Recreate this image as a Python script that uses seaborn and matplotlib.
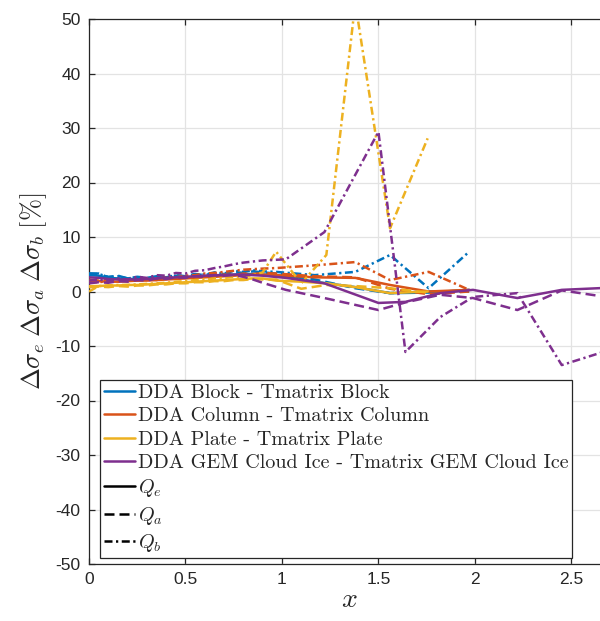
import matplotlib
matplotlib.use("Agg")
import matplotlib.pyplot as plt
from matplotlib.lines import Line2D
import numpy as np
import pandas as pd
import seaborn as sns

# ---- data: relative differences DDA vs T-matrix, in percent ----
x_dense = [0.00, 0.05, 0.10, 0.15, 0.20, 0.25, 0.30, 0.35, 0.40, 0.45,
           0.50, 0.55, 0.60, 0.65, 0.70, 0.75, 0.80, 0.85, 0.90]

# Block
x_block_tail = [0.97, 1.17, 1.38, 1.56, 1.76, 1.97]
block_qe = [3.0, 2.9, 2.5, 2.4, 2.3, 2.3, 2.2, 2.3, 2.4, 2.5, 2.6, 2.7, 2.8, 2.9, 3.0, 3.1, 3.2, 3.2, 3.1,
            3.0, 1.8, 0.8, -0.3, -0.2, 0.3]
block_qa = [3.3, 3.3, 2.6, 2.9, 2.4, 2.7, 2.5, 2.8, 2.6, 3.0, 2.8, 3.2, 3.0, 3.4, 3.2, 3.6, 3.4, 3.7, 3.5,
            3.3, 2.2, 0.6, -0.3, 0.0, 0.0]
block_qb = [3.3, 3.2, 2.7, 2.8, 2.4, 2.6, 2.3, 2.7, 2.5, 2.9, 2.8, 3.2, 3.1, 3.5, 3.3, 3.8, 3.6, 3.9, 3.7,
            3.6, 3.0, 3.6, 6.7, 0.6, 7.3]

# Column
x_column_tail = [0.97, 1.17, 1.38, 1.56, 1.76, 1.97]
column_qe = [2.0, 1.9, 1.8, 1.8, 1.9, 2.0, 2.0, 2.1, 2.2, 2.3, 2.4, 2.5, 2.6, 2.7, 2.8, 2.9, 3.0, 3.1, 3.1,
             3.0, 2.6, 2.5, 1.2, 0.0, 0.3]
column_qa = [2.2, 2.0, 2.1, 1.9, 2.2, 2.0, 2.3, 2.1, 2.5, 2.3, 2.7, 2.5, 2.9, 2.8, 3.1, 3.0, 3.3, 3.2, 3.4,
             3.3, 2.8, 2.6, 0.5, -0.5, 0.0]
column_qb = [1.8, 1.7, 1.9, 1.8, 2.1, 2.0, 2.3, 2.3, 2.6, 2.6, 2.9, 3.0, 3.3, 3.4, 3.6, 3.8, 4.0, 4.1, 4.2,
             4.3, 4.8, 5.4, 2.1, 3.6, 0.3]

# Plate
x_plate_tail = [0.97, 1.10, 1.23, 1.38, 1.56, 1.755]
plate_qe = [1.0, 1.0, 1.1, 1.1, 1.2, 1.2, 1.3, 1.4, 1.5, 1.6, 1.7, 1.8, 1.9, 2.0, 2.1, 2.2, 2.3, 2.4, 2.4,
            2.0, 1.8, 1.5, 0.8, -0.3, 0.0]
plate_qa = [0.8, 0.9, 0.8, 1.0, 0.9, 1.1, 1.1, 1.3, 1.3, 1.5, 1.5, 1.7, 1.7, 1.9, 1.9, 2.1, 2.1, 2.3, 2.2,
            2.2, 0.5, 1.2, 1.0, 0.6, -0.2]
plate_qb = [0.0, 1.0, 1.1, 1.2, 1.2, 1.3, 1.4, 1.5, 1.6, 1.8, 1.9, 2.1, 2.2, 2.4, 2.5, 2.7, 2.8, 3.0, 3.5,
            7.3, 1.5, 6.7, 53.0, 11.6, 28.1]

# GEM cloud ice
x_gem_tail = [1.02, 1.22, 1.50, 1.64, 1.82, 1.99, 2.22, 2.45, 2.70]
gem_qe = [2.6, 2.5, 2.3, 2.2, 2.2, 2.2, 2.3, 2.4, 2.5, 2.6, 2.7, 2.8, 2.9, 3.0, 3.0, 3.1, 3.1, 3.0, 2.9,
          2.5, 1.5, -2.1, -1.9, -0.3, 0.3, -1.2, 0.3, 0.7]
gem_qa = [1.5, 1.7, 1.6, 1.9, 1.8, 2.1, 2.0, 2.4, 2.3, 2.6, 2.5, 2.8, 2.7, 3.0, 2.9, 3.0, 2.7, 2.2, 1.6,
          0.3, -1.2, -3.4, -2.0, -0.6, -1.2, -3.4, 0.2, -1.1]
gem_qb = [2.0, 2.2, 2.0, 2.4, 2.2, 2.7, 2.5, 3.0, 2.9, 3.4, 3.3, 3.8, 3.9, 4.3, 4.6, 5.0, 5.3, 5.5, 5.7,
          5.9, 10.9, 29.3, -11.1, -4.7, -1.0, -0.3, -13.5, -10.7]

shape_labels = ["DDA Block - Tmatrix Block",
                "DDA Column - Tmatrix Column",
                "DDA Plate - Tmatrix Plate",
                "DDA GEM Cloud Ice - Tmatrix GEM Cloud Ice"]
quantity_labels = [r"$Q_e$", r"$Q_a$", r"$Q_b$"]

# ---- styling ----
sns.set_theme(style="white")
plt.rcParams["font.family"] = ["Liberation Sans", "DejaVu Sans"]
plt.rcParams["mathtext.fontset"] = "cm"
plt.rcParams["axes.unicode_minus"] = False

colors = ["#0072BD", "#D95319", "#EDB120", "#7E2F8E"]
styles = ["-", (0, (4.0, 2.0)), (0, (3.2, 1.4, 0.9, 1.4))]
lw = 1.8

shapes = [
    (x_block_tail, [block_qe, block_qa, block_qb]),
    (x_column_tail, [column_qe, column_qa, column_qb]),
    (x_plate_tail, [plate_qe, plate_qa, plate_qb]),
    (x_gem_tail, [gem_qe, gem_qa, gem_qb]),
]

fig = plt.figure(figsize=(6.0, 6.21), dpi=100)
ax = fig.add_axes([89 / 600, 1 - 564 / 621, 521 / 600, 545 / 621])

for (tail, series), c in zip(shapes, colors):
    xs = x_dense + tail
    for vals, ls in zip(series, styles):
        df = pd.DataFrame({"x": xs, "y": vals})
        sns.lineplot(data=df, x="x", y="y", ax=ax, color=c, linewidth=lw,
                     linestyle=ls, estimator=None, sort=False, zorder=3)

ax.set_xlim(0, 2.7)
ax.set_ylim(-50, 50)
ax.set_xticks([0, 0.5, 1, 1.5, 2, 2.5])
ax.set_xticklabels(["0", "0.5", "1", "1.5", "2", "2.5"])
ax.set_yticks(np.arange(-50, 51, 10))
ax.grid(True, color="#e3e3e3", linewidth=0.9)
ax.set_axisbelow(True)

for s in ax.spines.values():
    s.set_color("#262626")
    s.set_linewidth(0.9)
ax.tick_params(direction="in", length=4.5, width=0.9, color="#262626",
               labelsize=12.5, labelcolor="#262626", top=True, right=True,
               bottom=True, left=True)
ax.tick_params(axis="x", pad=6)
ax.tick_params(axis="y", pad=6)

ax.set_xlabel(r"$x$", fontsize=20, color="#262626", labelpad=0)
ax.set_ylabel(r"$\Delta\sigma_e\;\Delta\sigma_a\;\Delta\sigma_b\;[\%]$",
              fontsize=19, color="#262626", labelpad=5)

handles = [Line2D([], [], color=c, linewidth=lw) for c in colors]
handles += [Line2D([], [], color="black", linewidth=lw, linestyle=ls) for ls in styles]
labels = shape_labels + quantity_labels
leg = ax.legend(handles, labels, loc="upper left", bbox_to_anchor=(0.021, 0.3376),
                borderaxespad=0, frameon=True, fancybox=False, framealpha=1,
                edgecolor="#262626", prop={"family": "cmr10", "size": 14.5},
                handlelength=1.55, handletextpad=0.12, labelspacing=0.26,
                borderpad=0.2)
leg.get_frame().set_linewidth(0.9)

fig.savefig("out.png", dpi=100)
